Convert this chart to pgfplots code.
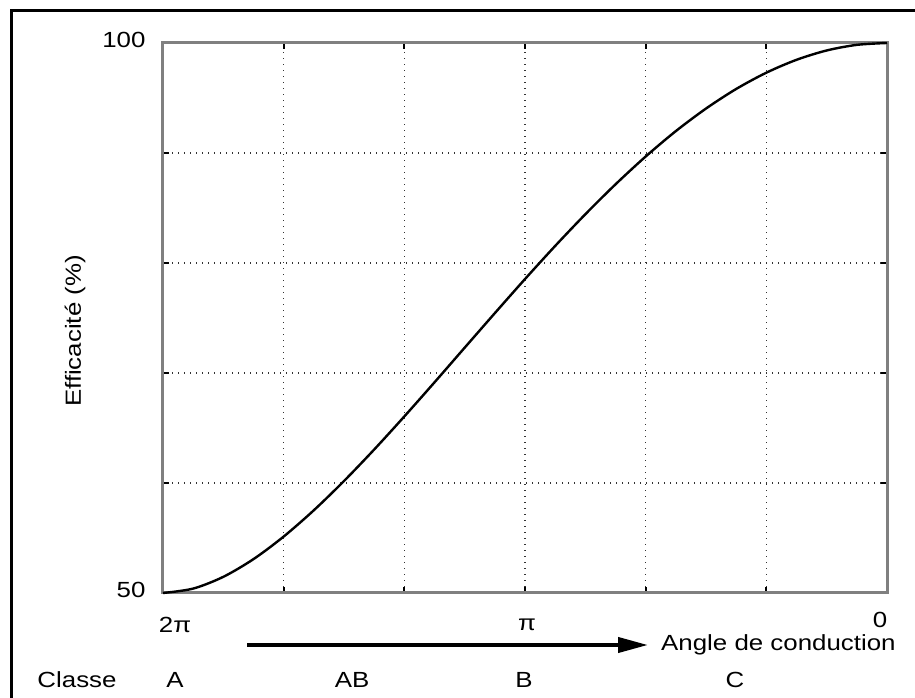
\documentclass[border=0pt]{standalone}
\usepackage{fontspec}
\setmainfont{Liberation Sans}[FakeStretch=1.18]
\usepackage{pgfplots}
\pgfplotsset{compat=1.18}
\usetikzlibrary{arrows.meta}

% efficiency vs. conduction angle (degrees), 0 = class C, 360 = class A
\pgfplotstableread{
theta eta
0   100.00
15  99.83
30  99.32
45  98.47
60  97.30
75  95.82
90  94.04
105 91.99
120 89.68
135 87.15
150 84.43
165 81.55
180 78.54
195 75.44
210 72.30
225 69.15
240 66.05
255 63.04
270 60.18
285 57.52
300 55.13
315 53.08
330 51.47
345 50.40
360 50.00
}\etadata

\begin{document}
\begin{tikzpicture}[x=1bp,y=1bp]
\useasboundingbox (0,0) rectangle (915,698);
\fontsize{22}{26}\selectfont
% outer frame (only left and top edges visible)
\draw[line width=3bp] (11,-10) -- (11,687.5) -- (930,687.5);

\begin{axis}[
  at={(163bp,105bp)}, anchor=south west,
  width=724bp, height=550bp, scale only axis,
  x dir=reverse,
  xmin=0, xmax=360, ymin=50, ymax=100,
  xtick={0,60,...,360}, ytick={50,60,...,100},
  xticklabels={},
  yticklabels={50,,,,,100},
  tick label style={font=\fontsize{22}{26}\selectfont},
  yticklabel style={xshift=-10bp, yshift=3bp},
  tick align=inside, major tick length=6bp,
  tick style={black, line width=1.8bp},
  grid=major,
  major grid style={black!80, line width=1.4bp, dash pattern=on 1.4bp off 4.6bp},
  axis line style={black!50, line width=3bp},
  clip=false,
]
\addplot[black, line width=2.4bp, smooth] table[x=theta, y=eta] {\etadata};
\end{axis}

% x tick labels, slightly offset as in the original
\node[inner sep=0pt] at (175,73) {2π};
\node[inner sep=0pt] at (527,73) {π};
\node[inner sep=0pt] at (880,78) {0};

% arrow and annotations below the axis
\draw[line width=4bp, -{Triangle[length=30bp, width=15bp]}] (247,53) -- (648,53);
\node[anchor=west, inner sep=0pt] at (661,53) {Angle de conduction};
\node[inner sep=0pt] at (77,18) {Classe};
\node[inner sep=0pt] at (175,18) {A};
\node[inner sep=0pt] at (352,18) {AB};
\node[inner sep=0pt] at (524,18) {B};
\node[inner sep=0pt] at (735,18) {C};
\node[rotate=90, inner sep=0pt] at (75,367) {Efficacité (\%)};
\end{tikzpicture}
\end{document}
